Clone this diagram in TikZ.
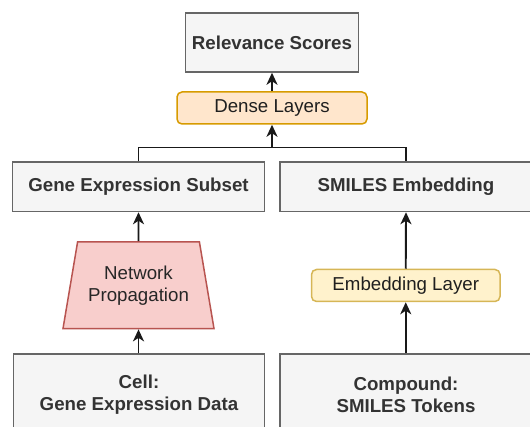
\documentclass[tikz,border=0pt]{standalone}
\usepackage{fontspec}
\setmainfont{Liberation Sans}
\usetikzlibrary{shapes.geometric,arrows.meta}
\definecolor{greyfill}{HTML}{F5F5F5}
\definecolor{greyline}{HTML}{666666}
\definecolor{greytext}{HTML}{333333}
\definecolor{orfill}{HTML}{FFE6CC}
\definecolor{orline}{HTML}{D79B00}
\definecolor{yefill}{HTML}{FFF2CC}
\definecolor{yeline}{HTML}{D6B656}
\definecolor{rdfill}{HTML}{F8CECC}
\definecolor{rdline}{HTML}{B85450}
\tikzset{
  base/.style={inner sep=0pt, align=center, font=\fontsize{18.7}{22}\selectfont, line width=1.5pt},
  greybox/.style={base, rectangle, draw=greyline, fill=greyfill, text=greytext, font=\fontsize{18.7}{22}\selectfont\bfseries},
  densebox/.style={base, rectangle, rounded corners=5pt, draw=orline, fill=orfill, text=black!88},
  embbox/.style={base, rectangle, rounded corners=5pt, draw=yeline, fill=yefill, text=black!88},
  trapbox/.style={base, trapezium, trapezium left angle=69.7, trapezium right angle=69.7, trapezium stretches body, draw=rdline, fill=rdfill, text=black!85},
  conn/.style={line width=1.9pt, draw=black!90},
  arr/.style={conn, -{Stealth[length=12pt,width=11pt,inset=3.5pt]}}
}
\begin{document}
\begin{tikzpicture}[x=1pt,y=-1pt]
\useasboundingbox (0,0) rectangle (530,427);
\clip (0,0) rectangle (530,427);
\node[greybox, minimum width=173pt, minimum height=59pt] (rel) at (272,42.5) {Relevance Scores};
\node[densebox, minimum width=190pt, minimum height=32pt] (dense) at (272,108) {Dense Layers};
\node[greybox, minimum width=252pt, minimum height=49.5pt] (gene) at (138.5,186.75) {Gene Expression Subset};
\node[greybox, minimum width=252pt, minimum height=49.5pt] (smiles) at (406,186.75) {SMILES Embedding};
\node[trapbox, minimum width=151pt, minimum height=86.6pt] (trap) at (138.5,285.3) {Network\\Propagation};
\node[embbox, minimum width=188.5pt, minimum height=32pt] (emb) at (405.75,285.5) {Embedding Layer};
\node[greybox, minimum width=251pt, minimum height=81pt] (cell) at (139,394.5) {Cell:\\Gene Expression Data};
\node[greybox, minimum width=252pt, minimum height=81pt] (comp) at (406,394.5) {Compound:\\SMILES Tokens};
\coordinate (j) at (272,147.5);
\draw[conn] (gene.north) |- (j) -| (smiles.north);
\draw[arr] (j) -- (dense.south);
\draw[arr] (dense.north) -- (rel.south);
\draw[arr] (trap.north) -- (gene.south);
\draw[arr] (cell.north -| trap.south) -- (trap.south);
\draw[arr] (emb.north) -- (smiles.south);
\draw[arr] (comp.north -| emb.south) -- (emb.south);
\end{tikzpicture}
\end{document}
